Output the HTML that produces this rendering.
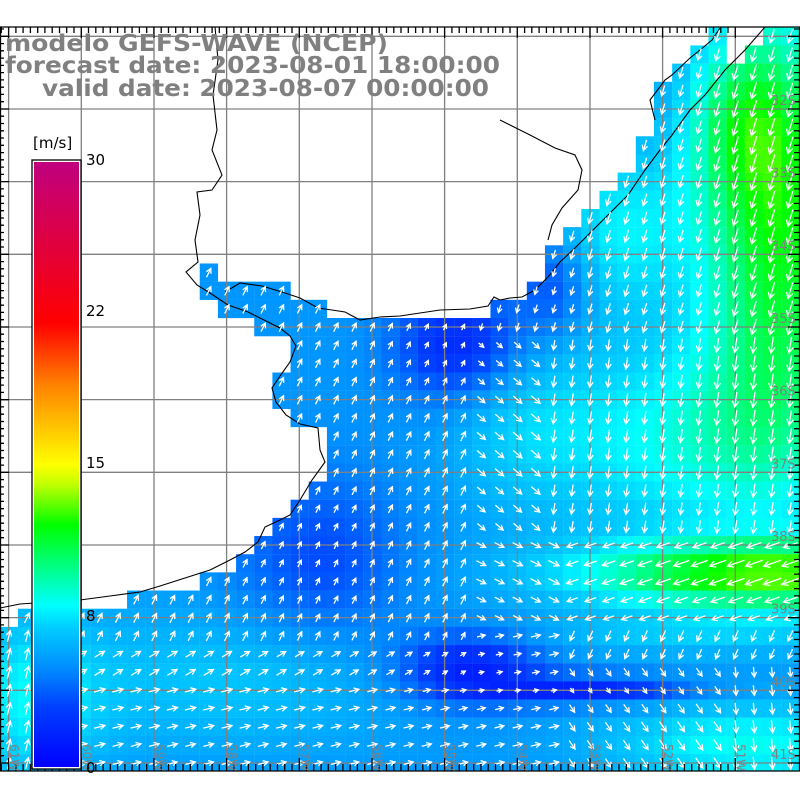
<!DOCTYPE html>
<html><head><meta charset="utf-8"><style>
html,body{margin:0;padding:0;background:#fff;width:800px;height:800px;overflow:hidden}
svg{display:block}
</style></head><body>
<svg id="s" width="800" height="800" xmlns="http://www.w3.org/2000/svg"></svg>
<script>
var W=18.17,X0=-0.14,Y0=9.1;
var seg={1:[[39,39],[42,44]],2:[[38,39],[41,44]],3:[[37,44]],4:[[36,44]],5:[[36,44]],6:[[36,44]],7:[[35,44]],8:[[35,44]],9:[[34,44]],10:[[33,44]],11:[[32,44]],12:[[31,44]],13:[[30,44]],14:[[11,11],[30,44]],15:[[11,15],[29,44]],16:[[12,17],[27,44]],17:[[14,44]],18:[[16,44]],19:[[16,44]],20:[[15,44]],21:[[15,44]],22:[[16,44]],23:[[18,44]],24:[[18,44]],25:[[18,44]],26:[[17,44]],27:[[16,44]],28:[[15,44]],29:[[14,44]],30:[[13,44]],31:[[11,44]],32:[[7,44]],33:[[1,44]]};
for(var r=34;r<=41;r++)seg[r]=[[0,44]];
function g(x,y,cx,cy,sx,sy){return Math.exp(-((x-cx)*(x-cx)/(2*sx*sx)+(y-cy)*(y-cy)/(2*sy*sy)));}
function spd(x,y){
 var s=5.2;
 s-=3.5*g(x,y,460,345,45,40);
 s-=3.8*g(x,y,470,668,50,25);
 s-=3.5*g(x,y,590,690,70,10);
 s-=2*g(x,y,320,560,60,60);
 s-=2.2*g(x,y,555,285,25,35);
 s+=6.5*g(x,y,780,230,55,150);
 s+=3*g(x,y,740,120,40,60);
 s+=7.2*g(x,y,770,575,130,24);
 s+=1.5*g(x,y,700,635,120,15);
 s+=3*g(x,y,750,745,100,30);
 s+=3*g(x,y,690,440,110,70);
 s+=2.5*g(x,y,620,230,50,60);
 s+=2.5*g(x,y,30,700,50,60);
 s+=1.5*g(x,y,230,680,120,50);
 s+=1.2*g(x,y,520,420,50,60);
 return Math.max(0.3,s);
}
var stops=[[0,0,0,255],[3,0,64,255],[5,0,144,255],[7,0,208,255],[8,0,255,255],[10,0,255,128],[12,0,255,0],[14,192,255,0],[15,255,255,0],[19,255,128,0],[22,255,0,0],[30,192,0,127]];
function col(v){
 for(var i=0;i<stops.length-1;i++){var a=stops[i],b=stops[i+1];
  if(v<=b[0]){var t=(v-a[0])/(b[0]-a[0]);if(t<0)t=0;
   return "rgb("+Math.round(a[1]+t*(b[1]-a[1]))+","+Math.round(a[2]+t*(b[2]-a[2]))+","+Math.round(a[3]+t*(b[3]-a[3]))+")";}}
 return "rgb(192,0,127)";
}
function dir(x,y){
 if(x<480){
  if(x<80&&y>620)return[0.25,-1];
  if(y<640)return[0.45,-0.9];
  if(y<690)return[0.85,-0.5];
  return[1,-0.25];
 }
 if(y<330)return[-0.3,1];
 if(y<540){if(x<540)return[0.7,0.6];return[-0.15,1];}
 if(y<620){if(x>560)return[-1,0.35];return[0.8,0.4];}
 if(x>560){if(y<670)return[-0.4,0.9];if(x<720)return[0.55,0.8];return[0.1,1];}
 return[0.9,-0.2];
}
var h="";
var arr="";
for(var r=1;r<=41;r++){
 var sg=seg[r];if(!sg)continue;
 for(var k=0;k<sg.length;k++)for(var c=sg[k][0];c<=sg[k][1];c++){
  var x=X0+c*W,y=Y0+r*W,cx=x+W/2,cy=y+W/2;
  var v=spd(cx,cy);
  h+='<rect x="'+x.toFixed(2)+'" y="'+y.toFixed(2)+'" width="18.3" height="18.3" fill="'+col(v)+'"/>';
  var d=dir(cx,cy),n=Math.hypot(d[0],d[1]),ux=d[0]/n,uy=d[1]/n;
  var L=3+v*1.15;
  var x1=cx-ux*L/2,y1=cy-uy*L/2,x2=cx+ux*L/2,y2=cy+uy*L/2;
  var hl=Math.min(6,2.5+L*0.25),ca=Math.cos(0.5),sa=Math.sin(0.5);
  var hx1=x2-hl*(ux*ca-uy*sa),hy1=y2-hl*(uy*ca+ux*sa);
  var hx2=x2-hl*(ux*ca+uy*sa),hy2=y2-hl*(uy*ca-ux*sa);
  arr+='M'+x1.toFixed(1)+' '+y1.toFixed(1)+'L'+x2.toFixed(1)+' '+y2.toFixed(1)+'M'+hx1.toFixed(1)+' '+hy1.toFixed(1)+'L'+x2.toFixed(1)+' '+y2.toFixed(1)+'L'+hx2.toFixed(1)+' '+hy2.toFixed(1);
 }
}
h='<clipPath id="cp"><rect x="0" y="27" width="800" height="744"/></clipPath><g clip-path="url(#cp)">'+h;
var gx=[8.6,81.3,154,226.6,299.3,372,444.6,517.3,590,662.6,735.3];
var gy=[36.3,109,181.6,254.3,327,399.6,472.3,545,617.6,690.3,763];
var gl="";
gx.forEach(function(x){gl+='M'+x+' 27V771';});
gy.forEach(function(y){gl+='M0 '+y+'H800';});
h+='<path d="'+gl+'" stroke="#808080" stroke-width="1.3" fill="none"/>';
var coast="M215 27L218 60L213 95L217 130L212 150L222 175L212 190L197 192L200 215L195 240L198 262L186 272L197 285L210 293L228 305L248 312L262 319L280 328L290 336L296 346L290 362L280 376L272 388L276 402L286 415L300 424L318 428L320 450L325 462L312 480L300 500L290 515L280 520L265 527L258 542L245 552L230 560L210 570L185 578L160 586L140 592L110 596L80 600L50 602L20 604L0 608";
var coast2="M225 292L240 283L262 286L282 292L300 298L318 308L332 310L345 312L360 320L380 317L400 316L420 313L440 310L470 309L488 306L494 297L500 300L510 298L522 297L535 290L548 277L560 262L575 248L592 231L610 213L628 195L645 170L660 150L672 135L690 110L705 95L725 70L745 50L765 27";
var coast3="M500 120L530 135L555 148L575 155L582 170L578 190L562 208L552 225L548 240";
var coast4="M655 120L650 100L665 80L672 75L690 58L700 50L712 40L720 28";
h+='<path d="'+coast+coast2+coast3+coast4+'" stroke="#000" stroke-width="1.1" fill="none"/>';
h+='<path d="'+arr+'" stroke="#fff" stroke-width="1.3" fill="none" stroke-linecap="square"/>';
h+='</g>';
var t="";
for(var i=0;i<=110;i++){var x=8.6+i*7.267-72.67;if(x<0||x>800)continue;var mj=Math.abs(((x-8.6)/72.67)-Math.round((x-8.6)/72.67))<0.01;
 t+='M'+x.toFixed(1)+' 27V'+(mj?38:33);t+='M'+x.toFixed(1)+' 771V'+(mj?758:764);}
for(var i=0;i<=110;i++){var y=36.3+i*7.267-72.67;if(y<27||y>771)continue;var mj=Math.abs(((y-36.3)/72.67)-Math.round((y-36.3)/72.67))<0.01;
 t+='M0 '+y.toFixed(1)+'H'+(mj?9:4);t+='M800 '+y.toFixed(1)+'H'+(mj?788:794);}
h+='<path d="'+t+'M0 27H800M0 771H800M0.5 27V771M799.5 27V771" stroke="#000" stroke-width="1.3" fill="none"/>';
var lat=["32S","33S","34S","35S","36S","37S","38S","39S","40S","41S"];
for(var i=0;i<lat.length;i++){h+='<text x="771" y="'+(105+i*72.67)+'" font-family="DejaVu Sans, sans-serif" font-size="13" fill="#808080">'+lat[i]+'</text>';}
var lon=["61W","60W","59W","58W","57W","56W","55W","54W","53W","52W","51W"];
for(var i=0;i<lon.length;i++){var x=10+i*72.67;h+='<text transform="translate('+x+',744) rotate(90)" font-family="DejaVu Sans, sans-serif" font-size="12" fill="#808080">'+lon[i]+'</text>';}
h+='<defs><linearGradient id="cb" x1="0" y1="1" x2="0" y2="0">';
stops.forEach(function(s){h+='<stop offset="'+(s[0]/30)+'" stop-color="rgb('+s[1]+','+s[2]+','+s[3]+')"/>';});
h+='</linearGradient></defs>';
h+='<rect x="32" y="160" width="49" height="609" fill="#fff" stroke="#000" stroke-width="1.3"/>';
h+='<rect x="34" y="162" width="45" height="605" fill="url(#cb)"/>';
[[30,160],[22,311],[15,463],[8,616],[0,768]].forEach(function(p){h+='<text x="86" y="'+(p[1]+5)+'" font-family="DejaVu Sans, sans-serif" font-size="15" fill="#000">'+p[0]+'</text>';});
h+='<text x="33" y="148" font-family="DejaVu Sans, sans-serif" font-size="15" fill="#000">[m/s]</text>';
h+='<g font-family="DejaVu Sans, sans-serif" font-weight="bold" font-size="23" fill="#808080">';
h+='<text x="5" y="51" textLength="383" lengthAdjust="spacingAndGlyphs">modelo GEFS-WAVE (NCEP)</text>';
h+='<text x="5" y="73" textLength="495" lengthAdjust="spacingAndGlyphs">forecast date: 2023-08-01 18:00:00</text>';
h+='<text x="42" y="96" textLength="447" lengthAdjust="spacingAndGlyphs">valid date: 2023-08-07 00:00:00</text>';
h+='</g>';
document.getElementById("s").innerHTML=h;
</script>
</body></html>
